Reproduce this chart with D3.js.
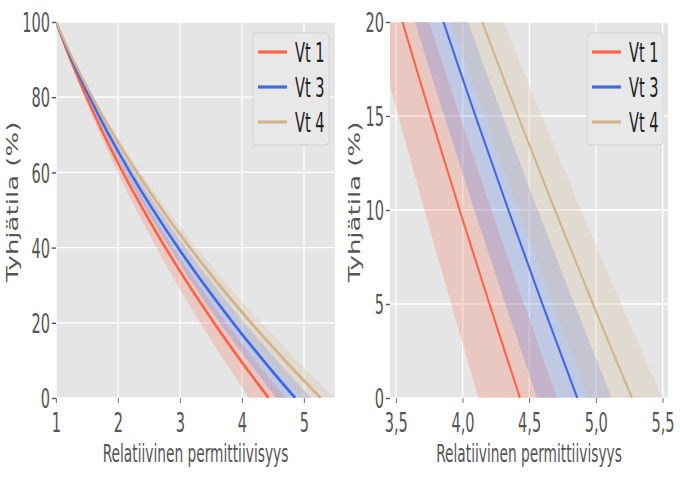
<!DOCTYPE html>
<html>
<head>
<meta charset="utf-8">
<script src="https://cdn.jsdelivr.net/npm/d3@7"></script>
<style>
body { margin: 0; background: #fff; }
</style>
</head>
<body>
<div id="chart"></div>
<script>
// void content levels (%) at which the curves were read
var voids = [100, 90, 80, 70, 60, 50, 40, 30, 20, 15, 10, 5, 0];

var seriesNames = ["Vt 1", "Vt 3", "Vt 4"];
var seriesColors = ["tomato", "royalblue", "tan"];

// relative permittivity, one value per void level
var vt1Mid  = [1.000, 1.233, 1.491, 1.773, 2.079, 2.410, 2.765, 3.145, 3.549, 3.760, 3.977, 4.201, 4.430];
var vt1Low  = [1.000, 1.217, 1.454, 1.713, 1.994, 2.295, 2.618, 2.961, 3.326, 3.517, 3.713, 3.914, 4.120];
var vt1High = [1.000, 1.248, 1.523, 1.825, 2.155, 2.513, 2.897, 3.310, 3.749, 3.979, 4.216, 4.460, 4.710];

var vt3Mid  = [1.000, 1.255, 1.540, 1.853, 2.196, 2.567, 2.968, 3.397, 3.856, 4.096, 4.343, 4.598, 4.860];
var vt3Low  = [1.000, 1.240, 1.506, 1.797, 2.115, 2.458, 2.827, 3.221, 3.642, 3.862, 4.088, 4.321, 4.560];
var vt3High = [1.000, 1.268, 1.569, 1.901, 2.265, 2.661, 3.089, 3.549, 4.041, 4.299, 4.564, 4.838, 5.120];

var vt4Mid  = [1.000, 1.276, 1.585, 1.928, 2.305, 2.715, 3.159, 3.636, 4.147, 4.415, 4.692, 4.977, 5.270];
var vt4Low  = [1.000, 1.260, 1.550, 1.870, 2.220, 2.600, 3.010, 3.450, 3.920, 4.166, 4.420, 4.681, 4.950];
var vt4High = [1.000, 1.287, 1.610, 1.970, 2.366, 2.798, 3.266, 3.770, 4.310, 4.594, 4.887, 5.189, 5.500];

var leftXTicks = [1, 2, 3, 4, 5];
var leftXTickLabels = ["1", "2", "3", "4", "5"];
var leftYTicks = [0, 20, 40, 60, 80, 100];
var rightXTicks = [3.5, 4.0, 4.5, 5.0, 5.5];
var rightXTickLabels = ["3,5", "4,0", "4,5", "5,0", "5,5"];
var rightYTicks = [0, 5, 10, 15, 20];

var xLabel = "Relatiivinen permittiivisyys";
var yLabel = "Tyhjätila (%)";

// the original figure is squeezed horizontally, draw wide and scale down
var SX = 0.6;
var width = 680, height = 477;
var narrowFont = "DejaVu Sans Condensed";

var mids = [vt1Mid, vt3Mid, vt4Mid];
var lows = [vt1Low, vt3Low, vt4Low];
var highs = [vt1High, vt3High, vt4High];

function buildRows(k) {
	return voids.map(function (v, i) {
		return { v: v, mid: mids[k][i], lo: lows[k][i], hi: highs[k][i] };
	});
}

var svg = d3.select("#chart").append("svg")
	.attr("width", width).attr("height", height);
var root = svg.append("g").attr("transform", "scale(" + SX + ",1)");

function drawPanel(opts) {
	try {
		var x = d3.scaleLinear().domain(opts.xDomain).range([opts.left / SX, opts.right / SX]);
		var y = d3.scaleLinear().domain(opts.yDomain).range([398, 22]);
		var g = root.append("g");
		var pw = x.range()[1] - x.range()[0];

		g.append("rect").attr("x", x.range()[0]).attr("y", 22)
			.attr("width", pw).attr("height", 376).attr("fill", "#e5e5e5");

		// grid
		g.append("g").selectAll("line").data(opts.xTicks).enter().append("line")
			.attr("x1", function (d) { return x(d); }).attr("x2", function (d) { return x(d); })
			.attr("y1", 22).attr("y2", 398)
			.attr("stroke", "#fff").attr("stroke-width", 2);
		g.append("g").selectAll("line").data(opts.yTicks).enter().append("line")
			.attr("x1", x.range()[0]).attr("x2", x.range()[1])
			.attr("y1", function (d) { return y(d); }).attr("y2", function (d) { return y(d); })
			.attr("stroke", "#fff").attr("stroke-width", 1.3);

		var clipId = "clip" + opts.id;
		g.append("clipPath").attr("id", clipId).append("rect")
			.attr("x", x.range()[0]).attr("y", 22).attr("width", pw).attr("height", 376);
		var plot = g.append("g").attr("clip-path", "url(#" + clipId + ")");

		var area = d3.area()
			.y(function (d) { return y(d.v); })
			.x0(function (d) { return x(d.lo); })
			.x1(function (d) { return x(d.hi); })
			.curve(d3.curveCatmullRom);
		var line = d3.line()
			.x(function (d) { return x(d.mid); })
			.y(function (d) { return y(d.v); })
			.curve(d3.curveCatmullRom);

		var k;
		for (k = 0; k < seriesNames.length; k++) {
			plot.append("path").datum(buildRows(k)).attr("d", area)
				.attr("fill", seriesColors[k]).attr("fill-opacity", 0.22);
		}
		for (k = 0; k < seriesNames.length; k++) {
			plot.append("path").datum(buildRows(k)).attr("d", line)
				.attr("fill", "none").attr("stroke", seriesColors[k])
				.attr("stroke-width", opts.lineWidth);
		}

		// axes
		var ax = g.append("g").attr("transform", "translate(0,398)")
			.call(d3.axisBottom(x).tickValues(opts.xTicks).tickSize(5).tickPadding(6)
				.tickFormat(function (d, i) { return opts.xTickLabels[i]; }));
		var ay = g.append("g").attr("transform", "translate(" + x.range()[0] + ",0)")
			.call(d3.axisLeft(y).tickValues(opts.yTicks).tickSize(7).tickPadding(3)
				.tickFormat(function (d) { return d; }));
		[ax, ay].forEach(function (a) {
			a.select(".domain").remove();
			a.selectAll(".tick line").attr("stroke", "#555").attr("stroke-width", 1.4);
			a.selectAll(".tick text").attr("fill", "#555")
				.attr("font-family", narrowFont).attr("font-size", 27);
		});
		ax.selectAll(".tick text").attr("dy", "0.85em");
		ay.selectAll(".tick text").attr("dy", "0.36em");

		g.append("text").attr("x", (x.range()[0] + x.range()[1]) / 2).attr("y", 462)
			.attr("text-anchor", "middle").attr("fill", "#555")
			.attr("font-family", narrowFont).attr("font-size", 25.5).text(xLabel);
		g.append("text")
			.attr("transform", "translate(" + (opts.yLabelX / SX) + ",202) rotate(-90)")
			.attr("text-anchor", "middle").attr("fill", "#555")
			.attr("font-family", "DejaVu Sans").attr("font-size", 26).text(yLabel);

		// legend
		var lg = g.append("g").attr("transform", "translate(" + (opts.legendX / SX) + ",33)");
		lg.append("rect").attr("width", 76 / SX).attr("height", 112).attr("rx", 5)
			.attr("fill", "#e8e8e8").attr("stroke", "#cfcfcf").attr("stroke-width", 1.2);
		for (k = 0; k < seriesNames.length; k++) {
			var ly = 19 + k * 35;
			lg.append("line").attr("x1", 5 / SX).attr("x2", 34 / SX)
				.attr("y1", ly).attr("y2", ly)
				.attr("stroke", seriesColors[k]).attr("stroke-width", 3.2);
			lg.append("text").attr("x", 42 / SX).attr("y", ly).attr("dy", "0.36em")
				.attr("fill", "#222").attr("font-family", narrowFont).attr("font-size", 27)
				.text(seriesNames[k]);
		}
	} catch (error) {
		throw "Function :: drawPanel Error: " + error;
	}
}

drawPanel({
	id: "L", left: 56, right: 335, xDomain: [1, 5.5], yDomain: [0, 100],
	xTicks: leftXTicks, xTickLabels: leftXTickLabels, yTicks: leftYTicks,
	lineWidth: 3.6, yLabelX: 18, legendX: 253
});
drawPanel({
	id: "R", left: 390, right: 668, xDomain: [3.455, 5.54], yDomain: [0, 20],
	xTicks: rightXTicks, xTickLabels: rightXTickLabels, yTicks: rightYTicks,
	lineWidth: 3.2, yLabelX: 360, legendX: 587
});
</script>
</body>
</html>
